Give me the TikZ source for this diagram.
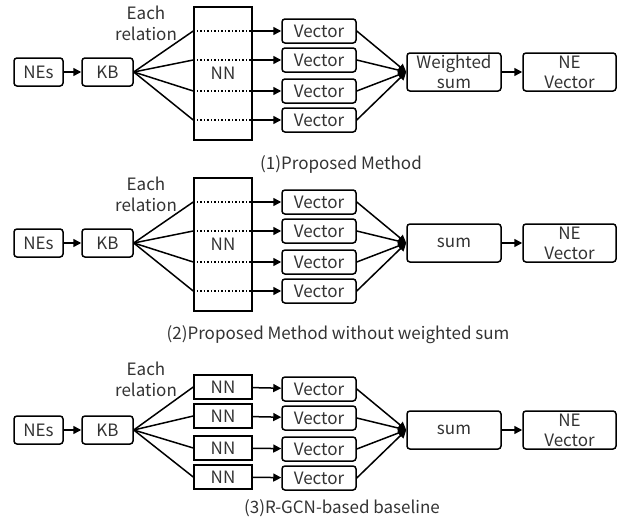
\documentclass[tikz,border=0pt]{standalone}
\usepackage{fontspec}
\setmainfont{Noto Sans CJK JP}
\usetikzlibrary{arrows.meta}

\begin{document}
\begin{tikzpicture}[x=1pt, y=-1pt, line width=1.5pt, >={Triangle[length=8pt,width=8pt]},
	font=\fontsize{17}{18}\selectfont, text=black!80]

	\tikzstyle{round_node}=[rectangle, rounded corners=3pt, draw=black, inner sep=1pt]
	\tikzstyle{ne_node}=[round_node, minimum width=49pt, minimum height=28pt]
	\tikzstyle{vector_node}=[round_node, minimum width=74pt, minimum height=24pt]
	\tikzstyle{sum_node}=[round_node, align=center, minimum width=94pt, minimum height=38pt, font=\fontsize{17}{20}\selectfont]
	\tikzstyle{nn_node}=[rectangle, draw=black, minimum width=58pt, minimum height=24pt, inner sep=1pt]
	\tikzstyle{big_nn_node}=[rectangle, draw=black, minimum width=58pt, minimum height=133pt]
	\tikzstyle{relation_text}=[align=center, font=\fontsize{17}{21}\selectfont]

	\useasboundingbox (0,0) rectangle (625,522);

	% (1) Proposed Method
	\node[ne_node] at (38.5,72) (nes1) {NEs};
	\node[ne_node, minimum width=51pt] at (107.5,72) (kb1) {KB};
	\node[big_nn_node] at (223,73.5) (nn1) {NN};
	\node[relation_text] at (146,23) (rel1) {Each\\relation};
	\node[vector_node] at (319,31) (va1) {Vector};
	\node[vector_node] at (319,60) (vb1) {Vector};
	\node[vector_node] at (319,91) (vc1) {Vector};
	\node[vector_node] at (319,120) (vd1) {Vector};
	\node[sum_node] at (454,72) (sum1) {Weighted\\sum};
	\node[sum_node, minimum width=93pt] at (569.5,72) (out1) {NE\\Vector};
	\node at (341,164) (cap1) {(1)Proposed Method};

	\draw[->] (nes1) -- (kb1);
	\foreach \v in {va1,vb1,vc1,vd1}{
		\draw (kb1.east) -- (nn1.west |- \v);
		\draw[dotted] (nn1.west |- \v) -- (nn1.east |- \v);
		\draw[->] (nn1.east |- \v) -- (\v);
		\draw[->] (\v.east) -- (sum1.west);
	}
	\draw[->] (sum1) -- (out1);

	% (2) Proposed Method without weighted sum
	\node[ne_node] at (38.5,243) (nes2) {NEs};
	\node[ne_node, minimum width=51pt] at (107.5,243) (kb2) {KB};
	\node[big_nn_node] at (223,244.5) (nn2) {NN};
	\node[relation_text] at (146,194) (rel2) {Each\\relation};
	\node[vector_node] at (319,202) (va2) {Vector};
	\node[vector_node] at (319,231) (vb2) {Vector};
	\node[vector_node] at (319,262) (vc2) {Vector};
	\node[vector_node] at (319,291) (vd2) {Vector};
	\node[sum_node] at (454,243) (sum2) {sum};
	\node[sum_node, minimum width=93pt] at (569.5,243) (out2) {NE\\Vector};
	\node at (338,335) (cap2) {(2)Proposed Method without weighted sum};

	\draw[->] (nes2) -- (kb2);
	\foreach \v in {va2,vb2,vc2,vd2}{
		\draw (kb2.east) -- (nn2.west |- \v);
		\draw[dotted] (nn2.west |- \v) -- (nn2.east |- \v);
		\draw[->] (nn2.east |- \v) -- (\v);
		\draw[->] (\v.east) -- (sum2.west);
	}
	\draw[->] (sum2) -- (out2);

	% (3) R-GCN-based baseline
	\node[ne_node] at (38.5,430) (nes3) {NEs};
	\node[ne_node, minimum width=51pt] at (107.5,430) (kb3) {KB};
	\node[relation_text] at (146,379) (rel3) {Each\\relation};
	\node[nn_node] at (223,387) (na3) {NN};
	\node[nn_node] at (223,416) (nb3) {NN};
	\node[nn_node] at (223,448) (nc3) {NN};
	\node[nn_node] at (223,477) (nd3) {NN};
	\node[vector_node] at (319,389) (va3) {Vector};
	\node[vector_node] at (319,418) (vb3) {Vector};
	\node[vector_node] at (319,449) (vc3) {Vector};
	\node[vector_node] at (319,478) (vd3) {Vector};
	\node[sum_node] at (454,430) (sum3) {sum};
	\node[sum_node, minimum width=93pt] at (569.5,430) (out3) {NE\\Vector};
	\node at (342,508) (cap3) {(3)R-GCN-based baseline};

	\draw[->] (nes3) -- (kb3);
	\draw (kb3.east) -- (na3.west);
	\draw (kb3.east) -- (nb3.west);
	\draw (kb3.east) -- (nc3.west);
	\draw (kb3.east) -- (nd3.west);
	\draw[->] (na3) -- (va3);
	\draw[->] (nb3) -- (vb3);
	\draw[->] (nc3) -- (vc3);
	\draw[->] (nd3) -- (vd3);
	\foreach \v in {va3,vb3,vc3,vd3}
		\draw[->] (\v.east) -- (sum3.west);
	\draw[->] (sum3) -- (out3);
\end{tikzpicture}
\end{document}
